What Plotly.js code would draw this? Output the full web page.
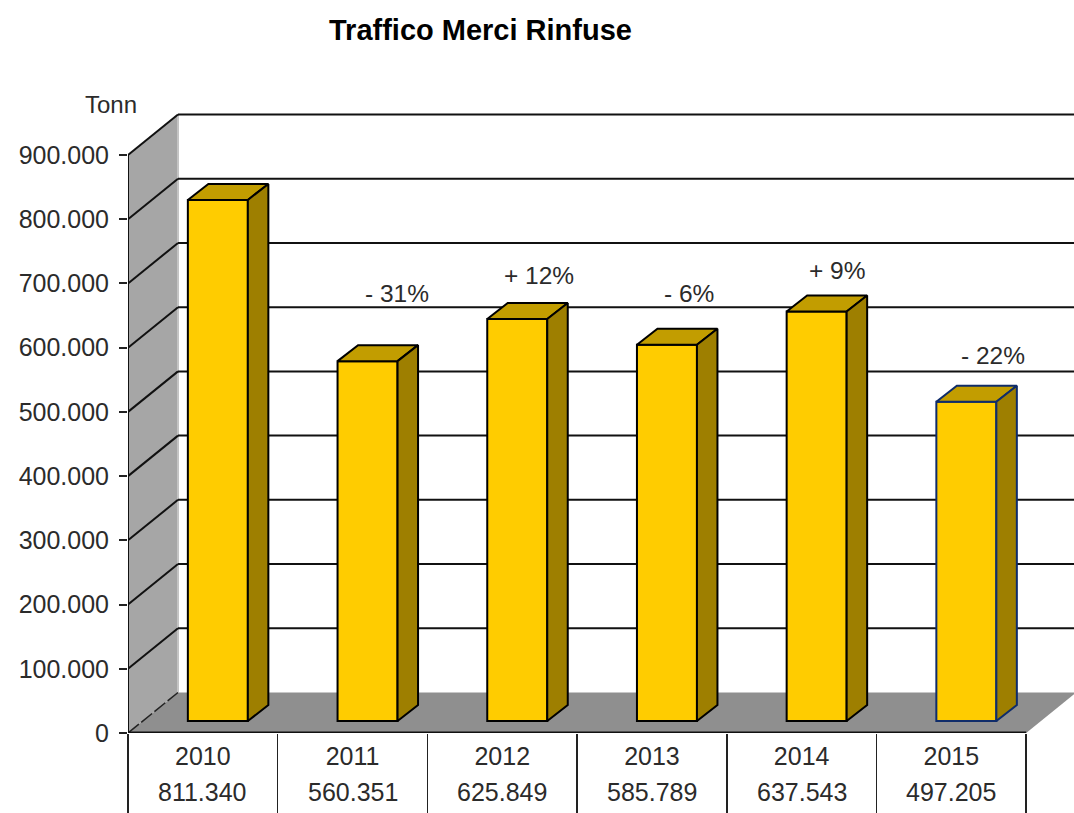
<!DOCTYPE html>
<html>
<head>
<meta charset="utf-8">
<script src="https://cdn.plot.ly/plotly-3.0.1.min.js"></script>
<style>html,body{margin:0;padding:0;background:#fff}#chart{width:1074px;height:813px}</style>
</head>
<body>
<div id="chart"></div>
<script>
const years = ['2010', '2011', '2012', '2013', '2014', '2015'];
const tonnes = [811340, 560351, 625849, 585789, 637543, 497205];
const changes = ['', '- 31%', '+ 12%', '- 6%', '+ 9%', '- 22%'];
const changeDx = [0, 29, 22, 22, 21, 27];
const changeDy = [0, 68, 44, 51, 41, 46];
const yTicks = [0, 100000, 200000, 300000, 400000, 500000, 600000, 700000, 800000, 900000];
const edgeColors = ['#000000', '#000000', '#000000', '#000000', '#000000', '#0f2c6a'];

const FONT = 'Liberation Sans, Arial, sans-serif';
const TEXT = '#2b2b2b';
const CAT_PX = 149.7, VAL_PX = 578 / 900000;
const xPx = p => p / CAT_PX, yPx = p => p / VAL_PX;
const X0 = -0.5, X1 = 5.5, XMAX = X0 + 946 / CAT_PX, YMAX = 638 / VAL_PX;
const WALL_X = xPx(50), WALL_Y = yPx(40.5);
const BAR_W = xPx(60), BAR_OFF = xPx(15), BAR_BASE = yPx(12);
const BAR_DX = xPx(20.5), BAR_DY = yPx(16);

const poly = pts => 'M' + pts.map(p => p[0] + ',' + p[1]).join('L') + 'Z';
const shapes = [
  {type: 'path', layer: 'below', xref: 'x', yref: 'y', fillcolor: '#a6a6a6',
   line: {width: 0},
   path: poly([[X0, 0], [X0, 900000], [X0 + WALL_X, 900000 + WALL_Y], [X0 + WALL_X, WALL_Y]])},
  {type: 'path', layer: 'below', xref: 'x', yref: 'y', fillcolor: '#8f8f8f',
   line: {width: 0},
   path: poly([[X0, 0], [X1, 0], [X1 + WALL_X, WALL_Y], [X0 + WALL_X, WALL_Y]])},
  {type: 'line', layer: 'below', xref: 'x', yref: 'y', x0: X0 + WALL_X, x1: X0 + WALL_X,
   y0: WALL_Y, y1: 900000 + WALL_Y, line: {color: '#c4c4c4', width: 2}}
];
yTicks.slice(1).forEach(v => {
  shapes.push({type: 'line', layer: 'below', xref: 'x', yref: 'y', x0: X0, y0: v,
    x1: X0 + WALL_X, y1: v + WALL_Y, line: {color: '#111', width: 2}});
  shapes.push({type: 'line', layer: 'below', xref: 'x', yref: 'y', x0: X0 + WALL_X, y0: v + WALL_Y,
    x1: XMAX, y1: v + WALL_Y, line: {color: '#111', width: 2}});
});
shapes.push({type: 'line', layer: 'below', xref: 'x', yref: 'y', x0: X0, y0: 0,
  x1: X0 + WALL_X, y1: WALL_Y, line: {color: '#222', width: 1.5, dash: '14px,3px'}});
shapes.push({type: 'line', layer: 'below', xref: 'x', yref: 'y', x0: X0, y0: 0, x1: X0, y1: 900000,
  line: {color: '#111', width: 2}});
shapes.push({type: 'line', layer: 'below', xref: 'x', yref: 'y', x0: X0, y0: 0, x1: X1, y1: 0,
  line: {color: '#111', width: 3}});

const traces = [{
  type: 'bar', x: years.map((_, i) => i + BAR_OFF), y: tonnes, base: BAR_BASE, width: BAR_W,
  marker: {color: '#ffcc00', line: {color: edgeColors, width: 2}}, hoverinfo: 'skip'
}];
tonnes.forEach((v, i) => {
  const l = i + BAR_OFF - BAR_W / 2, r = l + BAR_W, t = v + BAR_BASE;
  traces.push({
    type: 'scatter', mode: 'lines', fill: 'toself', fillcolor: '#c29d00',
    x: [l, r, r + BAR_DX, l + BAR_DX, l], y: [t, t, t + BAR_DY, t + BAR_DY, t],
    line: {color: edgeColors[i], width: 2}, hoverinfo: 'skip'
  });
  traces.push({
    type: 'scatter', mode: 'lines', fill: 'toself', fillcolor: '#9e7f00',
    x: [r, r + BAR_DX, r + BAR_DX, r, r],
    y: [t, t + BAR_DY, BAR_BASE + BAR_DY, BAR_BASE, t],
    line: {color: edgeColors[i], width: 2}, hoverinfo: 'skip'
  });
});

const fmt = v => String(v).replace(/\B(?=(\d{3})+$)/g, '.');
const annotations = [
  {text: 'Traffico Merci Rinfuse', xref: 'paper', yref: 'paper', x: (480 - 128) / 946, y: (733 - 30) / 638,
   xanchor: 'center', yanchor: 'middle', showarrow: false, font: {family: FONT, size: 29, color: '#000'}},
  {text: 'Tonn', xref: 'paper', yref: 'paper', x: (111 - 128) / 946, y: (733 - 104) / 638,
   xanchor: 'center', yanchor: 'middle', showarrow: false, font: {family: FONT, size: 24, color: TEXT}}
];
annotations[0].text = '<b>Traffico Merci Rinfuse</b>';
tonnes.forEach((v, i) => {
  annotations.push({text: fmt(v), xref: 'x', yref: 'paper', x: i, y: (733 - 792) / 638,
    xanchor: 'center', yanchor: 'middle', showarrow: false, font: {family: FONT, size: 25, color: TEXT}});
  if (changes[i]) annotations.push({text: changes[i], xref: 'x', yref: 'y', x: i + BAR_OFF, y: v + BAR_BASE,
    xshift: changeDx[i], yshift: changeDy[i], xanchor: 'center', yanchor: 'middle', showarrow: false,
    font: {family: FONT, size: 24.5, color: TEXT}});
});

const layout = {
  width: 1074, height: 813, autosize: false,
  margin: {l: 128, r: 0, t: 95, b: 80, pad: 0},
  paper_bgcolor: '#fff', plot_bgcolor: '#fff',
  showlegend: false, hovermode: false, separators: ',.',
  xaxis: {
    type: 'linear', range: [X0, XMAX], fixedrange: true, showgrid: false, zeroline: false, showline: false,
    tickmode: 'array', tickvals: years.map((_, i) => i), ticktext: years, ticks: '', ticklabelstandoff: 6,
    tickfont: {family: FONT, size: 25, color: TEXT},
    minor: {tickmode: 'linear', tick0: X0, dtick: 1, ticks: 'outside', ticklen: 80, tickwidth: 1.5, tickcolor: '#222', showgrid: false}
  },
  yaxis: {
    range: [0, YMAX], fixedrange: true, showgrid: false, zeroline: false, showline: false,
    tickmode: 'array', tickvals: yTicks, ticktext: yTicks.map(fmt), ticks: 'outside', ticklen: 8, tickwidth: 2, tickcolor: '#222',
    ticklabelstandoff: 5, tickfont: {family: FONT, size: 25, color: TEXT}
  },
  shapes, annotations
};
Plotly.newPlot('chart', traces, layout, {displayModeBar: false, staticPlot: true});
</script>
</body>
</html>
